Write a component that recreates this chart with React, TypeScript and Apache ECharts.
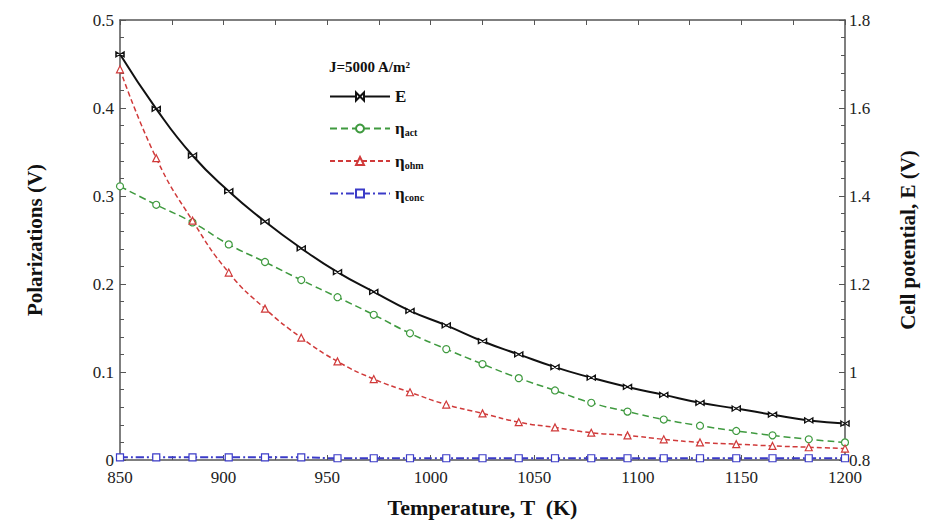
import React, { useEffect, useRef } from "react";
import * as echarts from "echarts";

const temps = [850, 867.5, 885, 902.5, 920, 937.5, 955, 972.5, 990, 1007.5, 1025, 1042.5, 1060, 1077.5, 1095, 1112.5, 1130, 1147.5, 1165, 1182.5, 1200];
const cellE = [1.722, 1.598, 1.492, 1.411, 1.342, 1.281, 1.227, 1.182, 1.139, 1.106, 1.070, 1.040, 1.011, 0.987, 0.966, 0.948, 0.930, 0.917, 0.903, 0.890, 0.883];
const etaAct = [0.311, 0.290, 0.270, 0.245, 0.225, 0.2045, 0.185, 0.165, 0.144, 0.126, 0.109, 0.093, 0.079, 0.065, 0.055, 0.046, 0.039, 0.033, 0.028, 0.0235, 0.020];
const etaOhm = [0.444, 0.343, 0.272, 0.213, 0.172, 0.139, 0.112, 0.092, 0.077, 0.063, 0.053, 0.043, 0.037, 0.031, 0.028, 0.0235, 0.020, 0.018, 0.016, 0.0145, 0.013];
const etaConc = [0.003, 0.003, 0.003, 0.003, 0.003, 0.003, 0.002, 0.002, 0.002, 0.002, 0.002, 0.002, 0.002, 0.002, 0.002, 0.002, 0.002, 0.002, 0.002, 0.002, 0.002];

const leftTicks = [0, 0.1, 0.2, 0.3, 0.4, 0.5];
const rightTicks = [0.8, 1, 1.2, 1.4, 1.6, 1.8];
const xTicks = [850, 900, 950, 1000, 1050, 1100, 1150, 1200];

const SERIF = "Liberation Serif";

const pair = (xs: number[], ys: number[]) => xs.map((x, i) => [x, ys[i]]);

export default function App() {
  const ref = useRef<HTMLDivElement>(null);
  useEffect(() => {
    if (!ref.current) return;
    const chart = echarts.init(ref.current, undefined, { renderer: "svg" });
    const axisLine = { show: true, lineStyle: { color: "#555", width: 1.5 } };
    const label = { color: "#222", fontFamily: SERIF, fontSize: 17 };
    const nameStyle = { color: "#111", fontFamily: SERIF, fontSize: 21, fontWeight: "bold" as const };
    const legendNames: Record<string, string> = {
      E: "{m|E}",
      "ηact": "{m|η}{s|act}",
      "ηohm": "{m|η}{s|ohm}",
      "ηconc": "{m|η}{s|conc}",
    };
    chart.setOption({
      animation: false,
      backgroundColor: "#fff",
      textStyle: { fontFamily: SERIF },
      title: {
        text: "J=5000 A/m²",
        left: 316,
        top: 46,
        textStyle: { fontFamily: SERIF, fontSize: 15, fontWeight: "bold", color: "#111" },
      },
      legend: {
        orient: "vertical",
        left: 316,
        top: 75,
        itemWidth: 60,
        itemHeight: 10,
        itemGap: 15,
        data: ["E", "ηact", "ηohm", "ηconc"],
        formatter: (n: string) => legendNames[n] || n,
        textStyle: {
          fontFamily: SERIF,
          color: "#111",
          rich: {
            m: { fontFamily: SERIF, fontSize: 17, fontWeight: "bold", color: "#111" },
            s: { fontFamily: SERIF, fontSize: 10, fontWeight: "bold", color: "#111", padding: [8, 0, 0, 0] },
          },
        },
      },
      grid: { left: 112, right: 84, top: 12, bottom: 58, containLabel: false },
      xAxis: [
        {
          type: "value",
          min: 850,
          max: 1200,
          interval: 50,
          name: "Temperature, T  (K)",
          nameLocation: "middle",
          nameGap: 36,
          nameTextStyle: { ...nameStyle, fontSize: 22 },
          axisLine,
          axisTick: { show: true, inside: true, length: 5, lineStyle: { color: "#555" } },
          minorTick: { show: true, splitNumber: 2, length: 4, lineStyle: { color: "#555" } },
          axisLabel: { ...label, margin: 9, formatter: (v: number) => (xTicks.includes(v) ? String(v) : "") },
          splitLine: { show: false },
        },
        {
          type: "value",
          position: "top",
          min: 850,
          max: 1200,
          interval: 25,
          axisLine,
          axisTick: { show: true, inside: true, length: 5, lineStyle: { color: "#555" } },
          axisLabel: { show: false },
          splitLine: { show: false },
        },
      ],
      yAxis: [
        {
          type: "value",
          min: 0,
          max: 0.5,
          interval: 0.1,
          name: "Polarizations (V)",
          nameLocation: "middle",
          nameGap: 75,
          nameTextStyle: nameStyle,
          axisLine,
          axisTick: { show: true, inside: true, length: 6, lineStyle: { color: "#555" } },
          minorTick: { show: true, splitNumber: 5, length: 4, lineStyle: { color: "#555" } },
          axisLabel: { ...label, margin: 6, formatter: (v: number) => { const t = leftTicks.find((k) => Math.abs(k - v) < 1e-9); return t === undefined ? "" : String(t); } },
          splitLine: { show: false },
        },
        {
          type: "value",
          min: 0.8,
          max: 1.8,
          interval: 0.2,
          name: "Cell potential, E (V)",
          nameLocation: "middle",
          nameGap: 52,
          nameRotate: 90,
          nameTextStyle: nameStyle,
          axisLine,
          axisTick: { show: true, inside: true, length: 6, lineStyle: { color: "#555" } },
          minorTick: { show: true, splitNumber: 5, length: 4, lineStyle: { color: "#555" } },
          axisLabel: { ...label, margin: 4, formatter: (v: number) => { const t = rightTicks.find((k) => Math.abs(k - v) < 1e-9); return t === undefined ? "" : String(t); } },
          splitLine: { show: false },
        },
      ],
      series: [
        {
          name: "E",
          type: "line",
          yAxisIndex: 1,
          data: pair(temps, cellE),
          smooth: true,
          symbol: "path://M0,0 L10,6 L10,0 L0,6 Z",
          symbolSize: [8, 5],
          lineStyle: { color: "#111", width: 2 },
          itemStyle: { color: "#fff", borderColor: "#111", borderWidth: 1.2 },
          color: "#111",
          z: 5,
        },
        {
          name: "ηact",
          type: "line",
          data: pair(temps, etaAct),
          smooth: true,
          symbol: "circle",
          symbolSize: 7,
          lineStyle: { color: "#3f9a3f", width: 1.5, type: [7, 4] },
          itemStyle: { color: "#fff", borderColor: "#3f9a3f", borderWidth: 1.2 },
          color: "#3f9a3f",
        },
        {
          name: "ηohm",
          type: "line",
          data: pair(temps, etaOhm),
          smooth: true,
          symbol: "triangle",
          symbolSize: 7,
          lineStyle: { color: "#d03a3a", width: 1.5, type: [5, 3] },
          itemStyle: { color: "#fff", borderColor: "#d03a3a", borderWidth: 1.2 },
          color: "#d03a3a",
        },
        {
          name: "ηconc",
          type: "line",
          data: pair(temps, etaConc),
          smooth: true,
          symbol: "rect",
          symbolSize: 7,
          lineStyle: { color: "#3b3bc8", width: 2, type: [8, 3, 2, 3] },
          itemStyle: { color: "#fff", borderColor: "#3b3bc8", borderWidth: 1.2 },
          color: "#3b3bc8",
        },
      ],
    });
    return () => chart.dispose();
  }, []);
  return <div ref={ref} style={{ width: 921, height: 515 }} />;
}
